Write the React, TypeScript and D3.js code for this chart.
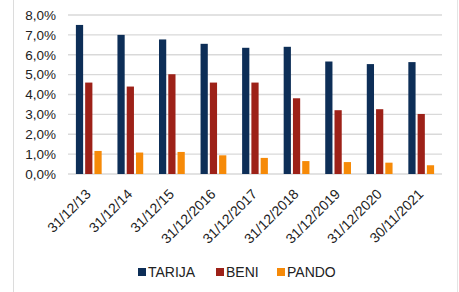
import React from 'react';
import * as d3 from 'd3';

const width = 459;
const height = 292;
const margin = { top: 15, right: 17, bottom: 118, left: 68 };

const categories = [
  '31/12/13',
  '31/12/14',
  '31/12/15',
  '31/12/2016',
  '31/12/2017',
  '31/12/2018',
  '31/12/2019',
  '31/12/2020',
  '30/11/2021'
];
const seriesNames = ['TARIJA', 'BENI', 'PANDO'];
const tarija = [7.5, 7.0, 6.77, 6.55, 6.35, 6.4, 5.66, 5.53, 5.63];
const beni = [4.6, 4.4, 5.02, 4.6, 4.6, 3.81, 3.21, 3.26, 3.02];
const pando = [1.16, 1.08, 1.11, 0.94, 0.81, 0.65, 0.6, 0.57, 0.44];
const yTicks = [0, 1, 2, 3, 4, 5, 6, 7, 8];
const colors = ['#0d2e57', '#9d2118', '#f68a08'];

const font = '"Liberation Sans", Arial, sans-serif';

export default function App() {
  const series = [tarija, beni, pando];
  const plotBottom = height - margin.bottom;

  const x0 = d3
    .scaleBand()
    .domain(categories)
    .range([margin.left, width - margin.right])
    .paddingInner(0)
    .paddingOuter(0);
  const groupWidth = x0.bandwidth() * 0.62;
  const x1 = d3
    .scaleBand()
    .domain(seriesNames)
    .range([0, groupWidth])
    .paddingInner(0.22);
  const y = d3.scaleLinear().domain([0, 8]).range([plotBottom, margin.top]);
  const fmt = (v: number) => v.toFixed(1).replace('.', ',') + '%';

  const legendItems = [
    { name: 'TARIJA', x: 138 },
    { name: 'BENI', x: 216 },
    { name: 'PANDO', x: 277 }
  ];

  return (
    <svg
      width={width}
      height={height}
      style={{ position: 'absolute', left: 0, top: 0, background: '#fff' }}
    >
      <line x1={13.5} x2={13.5} y1={0} y2={height} stroke="#dcdcdc" />
      <line x1={457.5} x2={457.5} y1={0} y2={height} stroke="#e4e4e4" />

      {yTicks.map(t => (
        <g key={t}>
          <line
            x1={margin.left}
            x2={width - margin.right}
            y1={y(t)}
            y2={y(t)}
            stroke="#d9d9d9"
            strokeWidth={1.3}
          />
          <text
            x={56}
            y={y(t)}
            dy="0.36em"
            textAnchor="end"
            fontFamily={font}
            fontSize={13.5}
            fill="#222"
          >
            {fmt(t)}
          </text>
        </g>
      ))}

      {categories.map((c, i) => {
        const gx = (x0(c) as number) + (x0.bandwidth() - groupWidth) / 2;
        return (
          <g key={c} transform={`translate(${gx},0)`}>
            {series.map((s, k) => (
              <rect
                key={k}
                x={x1(seriesNames[k])}
                y={y(s[i])}
                width={x1.bandwidth()}
                height={plotBottom - y(s[i])}
                fill={colors[k]}
              />
            ))}
          </g>
        );
      })}

      {categories.map(c => {
        const cx = (x0(c) as number) + x0.bandwidth() / 2 + 3;
        const cy = plotBottom + 21;
        return (
          <text
            key={c}
            transform={`translate(${cx},${cy}) rotate(-45)`}
            textAnchor="end"
            fontFamily={font}
            fontSize={14}
            fill="#222"
          >
            {c}
          </text>
        );
      })}

      {legendItems.map((it, k) => (
        <g key={it.name}>
          <rect x={it.x} y={268} width={8} height={8} fill={colors[k]} />
          <text
            x={it.x + 10}
            y={272}
            dy="0.36em"
            fontFamily={font}
            fontSize={14}
            fill="#222"
          >
            {it.name}
          </text>
        </g>
      ))}
    </svg>
  );
}
